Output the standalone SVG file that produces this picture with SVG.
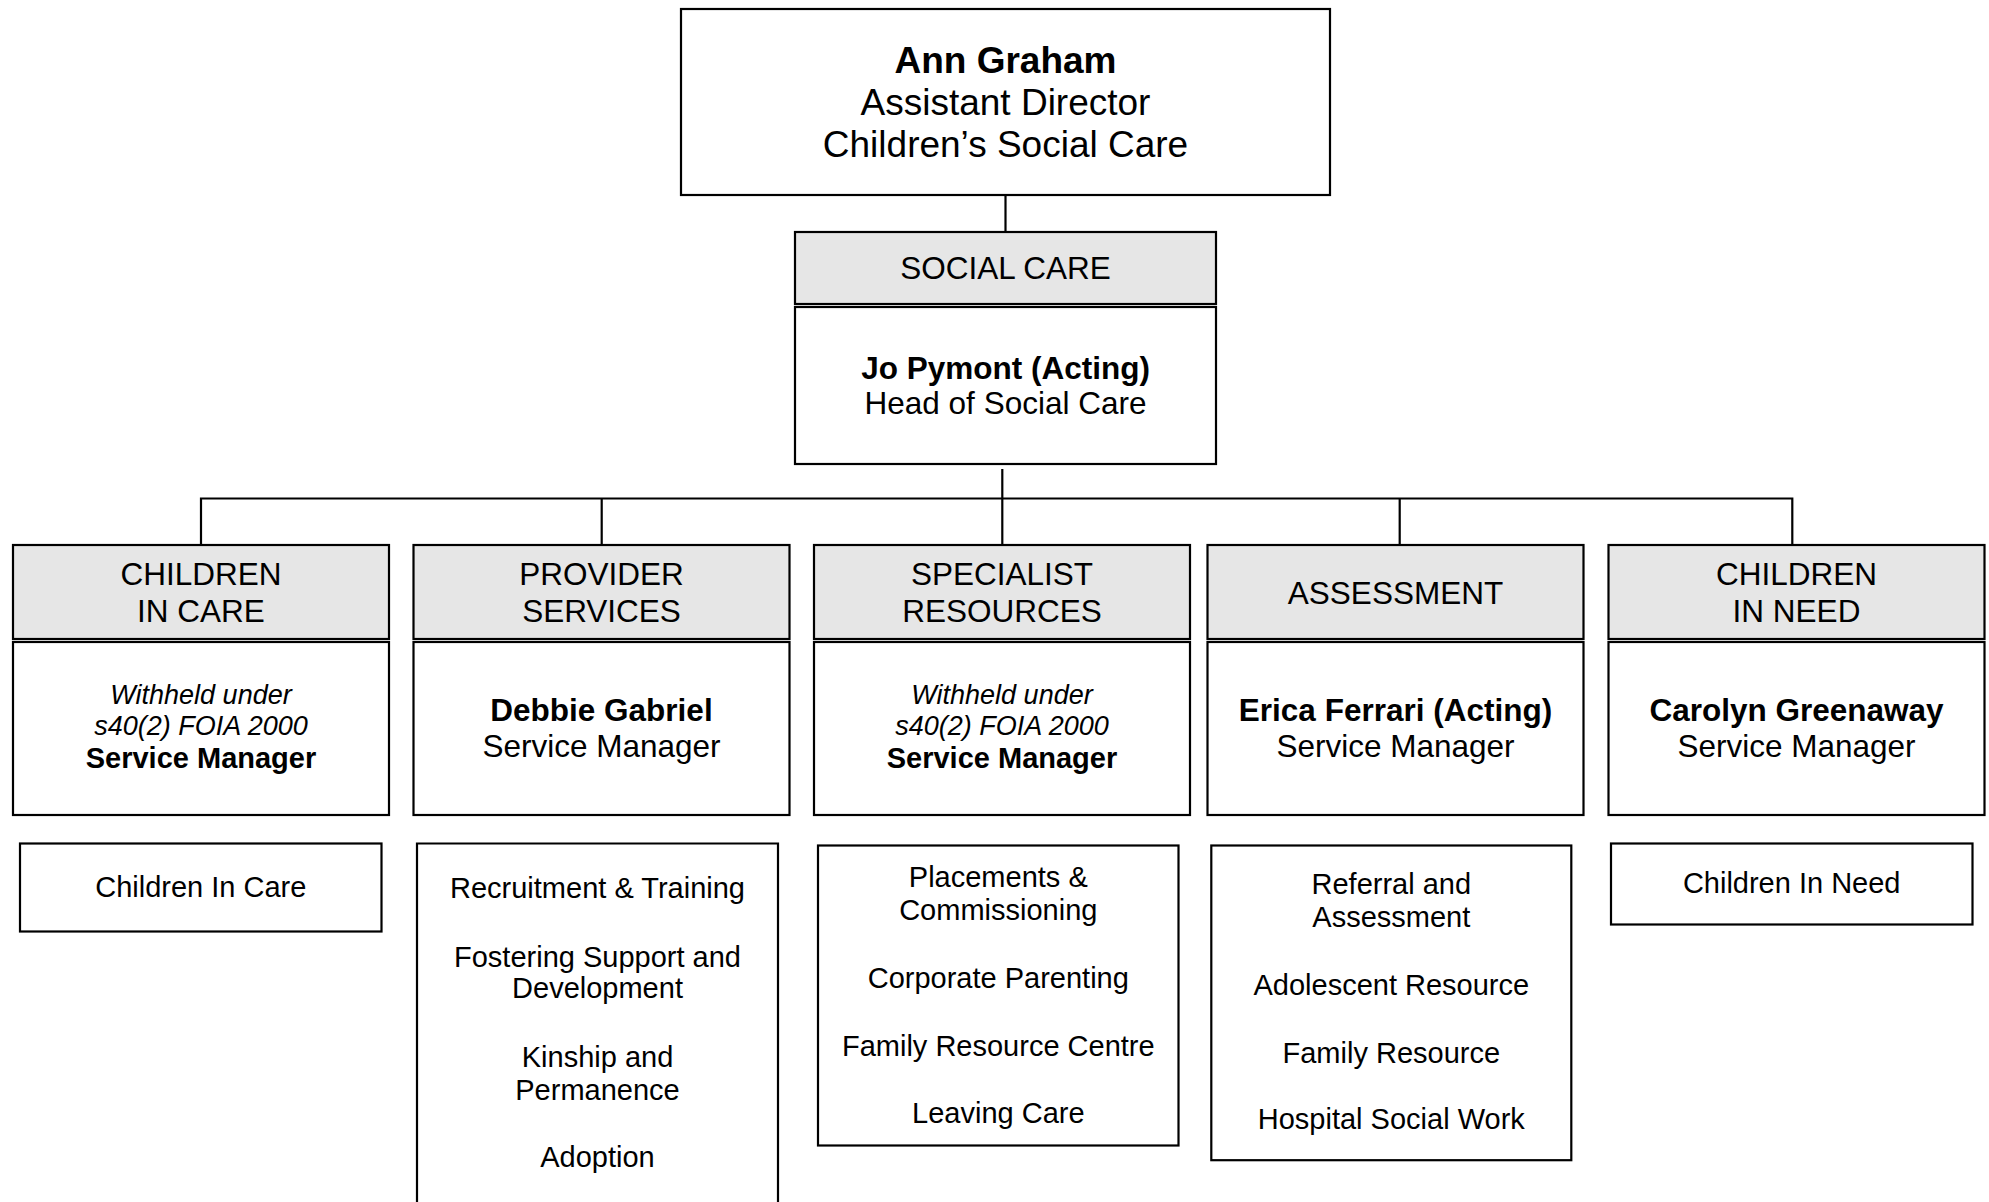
<svg xmlns="http://www.w3.org/2000/svg" width="1989" height="1202" viewBox="0 0 1989 1202">
<style>
  text { font-family: "Liberation Sans", Arial, sans-serif; fill: #000; text-anchor: middle; }
  .box { fill: #fff; stroke: #000; stroke-width: 2.2; }
  .hdr { fill: #e6e6e6; stroke: #000; stroke-width: 2.2; }
  .conn { fill: none; stroke: #000; stroke-width: 2.2; }
  .top { font-size: 37px; }
  .h { font-size: 31.5px; }
  .b { font-weight: bold; }
  .it { font-style: italic; font-size: 27px; }
  .bsm { font-weight: bold; font-size: 29px; }
  .li { font-size: 29px; }
</style>
<rect width="1989" height="1202" fill="#fff"/>
<g id="connectors">
  <path class="conn" d="M1005.5,195 V232"/>
  <path class="conn" d="M1002.3,469 V545"/>
  <path class="conn" d="M201,545 V498.5 H1792.3 V545"/>
  <path class="conn" d="M601.7,498.5 V545"/>
  <path class="conn" d="M1399.7,498.5 V545"/>
</g>
<g id="ann-graham">
  <rect class="box" x="681" y="9" width="649" height="186"/>
  <text class="top b" x="1005.5" y="72.7">Ann Graham</text>
  <text class="top" x="1005.5" y="115">Assistant Director</text>
  <text class="top" x="1005.5" y="157">Children’s Social Care</text>
</g>
<g id="social-care">
  <rect class="hdr" x="795" y="232" width="421" height="72"/>
  <rect class="box" x="795" y="307" width="421" height="157"/>
  <text class="h" x="1005.5" y="278.5">SOCIAL CARE</text>
  <text class="h b" x="1005.5" y="378.5">Jo Pymont (Acting)</text>
  <text class="h" x="1005.5" y="414">Head of Social Care</text>
</g>
<g id="children-in-care">
  <rect class="hdr" x="13" y="545" width="376" height="94"/>
  <rect class="box" x="13" y="642" width="376" height="173"/>
  <text class="h" x="201" y="585">CHILDREN</text>
  <text class="h" x="201" y="621.7">IN CARE</text>
  <text class="it" x="201" y="704">Withheld under</text>
  <text class="it" x="201" y="735">s40(2) FOIA 2000</text>
  <text class="bsm" x="201" y="768.3">Service Manager</text>
</g>
<g id="provider-services">
  <rect class="hdr" x="413.5" y="545" width="376" height="94"/>
  <rect class="box" x="413.5" y="642" width="376" height="173"/>
  <text class="h" x="601.5" y="585">PROVIDER</text>
  <text class="h" x="601.5" y="621.7">SERVICES</text>
  <text class="h b" x="601.5" y="720.7">Debbie Gabriel</text>
  <text class="h" x="601.5" y="756.7">Service Manager</text>
</g>
<g id="specialist-resources">
  <rect class="hdr" x="814" y="545" width="376" height="94"/>
  <rect class="box" x="814" y="642" width="376" height="173"/>
  <text class="h" x="1002" y="585">SPECIALIST</text>
  <text class="h" x="1002" y="621.7">RESOURCES</text>
  <text class="it" x="1002" y="704">Withheld under</text>
  <text class="it" x="1002" y="735">s40(2) FOIA 2000</text>
  <text class="bsm" x="1002" y="768.3">Service Manager</text>
</g>
<g id="assessment">
  <rect class="hdr" x="1207.5" y="545" width="376" height="94"/>
  <rect class="box" x="1207.5" y="642" width="376" height="173"/>
  <text class="h" x="1395.5" y="604">ASSESSMENT</text>
  <text class="h b" x="1395.5" y="720.7">Erica Ferrari (Acting)</text>
  <text class="h" x="1395.5" y="756.7">Service Manager</text>
</g>
<g id="children-in-need">
  <rect class="hdr" x="1608.5" y="545" width="376" height="94"/>
  <rect class="box" x="1608.5" y="642" width="376" height="173"/>
  <text class="h" x="1796.5" y="585">CHILDREN</text>
  <text class="h" x="1796.5" y="621.7">IN NEED</text>
  <text class="h b" x="1796.5" y="720.7">Carolyn Greenaway</text>
  <text class="h" x="1796.5" y="756.7">Service Manager</text>
</g>
<g id="cic-teams">
  <rect class="box" x="20" y="843.5" width="361.5" height="88"/>
  <text class="li" x="200.8" y="897.3">Children In Care</text>
</g>
<g id="provider-teams">
  <path class="box" d="M417,1210 V843.5 H778 V1210"/>
  <text class="li" x="597.5" y="898.3">Recruitment &amp; Training</text>
  <text class="li" x="597.5" y="966.7">Fostering Support and</text>
  <text class="li" x="597.5" y="998.3">Development</text>
  <text class="li" x="597.5" y="1066.7">Kinship and</text>
  <text class="li" x="597.5" y="1100">Permanence</text>
  <text class="li" x="597.5" y="1166.7">Adoption</text>
</g>
<g id="specialist-teams">
  <rect class="box" x="818" y="845.5" width="360.5" height="300"/>
  <text class="li" x="998.3" y="886.7">Placements &amp;</text>
  <text class="li" x="998.3" y="920">Commissioning</text>
  <text class="li" x="998.3" y="988.3">Corporate Parenting</text>
  <text class="li" x="998.3" y="1056">Family Resource Centre</text>
  <text class="li" x="998.3" y="1123.3">Leaving Care</text>
</g>
<g id="assessment-teams">
  <rect class="box" x="1211.3" y="845.5" width="360" height="314.7"/>
  <text class="li" x="1391.3" y="894">Referral and</text>
  <text class="li" x="1391.3" y="927.3">Assessment</text>
  <text class="li" x="1391.3" y="995">Adolescent Resource</text>
  <text class="li" x="1391.3" y="1062.7">Family Resource</text>
  <text class="li" x="1391.3" y="1129.3">Hospital Social Work</text>
</g>
<g id="cin-teams">
  <rect class="box" x="1611" y="843.5" width="361.5" height="81"/>
  <text class="li" x="1791.7" y="893.3">Children In Need</text>
</g>
</svg>
